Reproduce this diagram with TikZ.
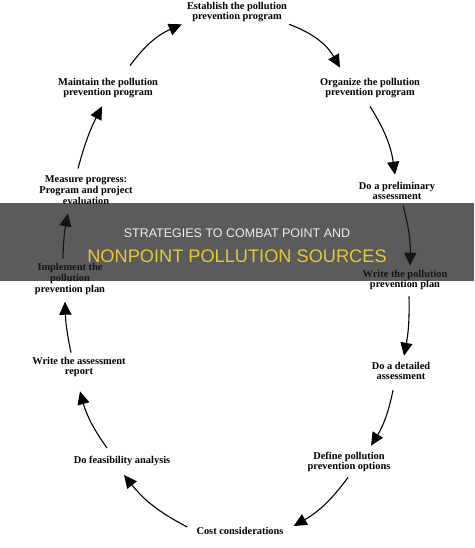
\documentclass[tikz,border=0pt]{standalone}
\usepackage{fontspec}
\setmainfont{Liberation Serif}
\newfontfamily\bannerfont{Liberation Sans}
\usetikzlibrary{arrows.meta,positioning}
\usepackage{xcolor}
\definecolor{band_gray}{RGB}{28,28,28}
\definecolor{band_white}{RGB}{236,236,236}
\definecolor{band_yellow}{RGB}{232,200,48}
\tikzset{
  stepnode/.style = {align=center, inner sep=2pt, font=\fontsize{10.4}{10.8}\selectfont\bfseries},
  flow/.style     = {black, line width=1.1pt, -{Triangle[length=13pt,width=12pt]}},
  bandtop/.style  = {font=\bannerfont\fontsize{12.5}{14}\selectfont, text=band_white},
  bandbot/.style  = {font=\bannerfont\fontsize{18.2}{20}\selectfont, text=band_yellow}
}

\begin{document}
\begin{tikzpicture}[x=1pt, y=-1pt]
    \useasboundingbox (0,0) rectangle (474,548);

    % ----- Steps of the cycle -----
    \node[stepnode] (est)  at (237,12)  {Establish the pollution\\prevention program};
    \node[stepnode] (org)  at (370,88)  {Organize the pollution\\prevention program};
    \node[stepnode] (pre)  at (397,191) {Do a preliminary\\assessment};
    \node[stepnode] (wpl)  at (405,280) {Write the pollution\\prevention plan};
    \node[stepnode] (det)  at (401,371) {Do a detailed\\assessment};
    \node[stepnode] (def)  at (349,462) {Define pollution\\prevention options};
    \node[stepnode] (cost) at (240,531) {Cost considerations};
    \node[stepnode] (fea)  at (122,461) {Do feasibility analysis};
    \node[stepnode] (rep)  at (79,367)  {Write the assessment\\report};
    \node[stepnode] (imp)  at (70,279)  {Implement the\\pollution\\prevention plan};
    \node[stepnode] (mea)  at (86,190)  {Measure progress:\\Program and project\\evaluation};
    \node[stepnode] (mai)  at (108,88)  {Maintain the pollution\\prevention program};

    % ----- Arrows (clockwise) -----
    \draw[flow] (est.south east) to[bend left=20] ([xshift=-30pt,yshift=8pt]org.north);
    \draw[flow] ([yshift=-6pt]org.south) to[bend left=12] ([xshift=-2pt,yshift=5pt]pre.north);
    \draw[flow] ([xshift=6pt,yshift=-3pt]pre.south) to[bend left=8] ([xshift=5pt,yshift=2pt]wpl.north);
    \draw[flow] ([xshift=4pt,yshift=-4pt]wpl.south) to[bend left=6] ([xshift=3pt,yshift=4pt]det.north);
    \draw[flow] ([xshift=-8pt,yshift=-8pt]det.south) to[bend left=10] ([xshift=22pt,yshift=4pt]def.north);
    \draw[flow] ([xshift=-1pt,yshift=-3pt]def.south) to[bend left=12] ([xshift=8pt,yshift=5pt]cost.east);
    \draw[flow] ([xshift=-7pt,yshift=4pt]cost.west) to[bend left=12] ([xshift=2pt,yshift=-7pt]fea.south);
    \draw[flow] ([xshift=-15pt,yshift=6pt]fea.north) to[bend left=10] ([xshift=1pt,yshift=-12pt]rep.south);
    \draw[flow] ([xshift=-8pt,yshift=2pt]rep.north) to[bend left=5] ([xshift=-5pt,yshift=-5pt]imp.south);
    \draw[flow] ([xshift=-7pt,yshift=3pt]imp.north) to[bend left=5] ([xshift=-18pt,yshift=-7pt]mea.south);
    \draw[flow] ([xshift=-8pt,yshift=5pt]mea.north) to[bend left=6] ([xshift=-6pt,yshift=-6pt]mai.south);
    \draw[flow] ([xshift=22pt,yshift=10pt]mai.north) to[bend left=15] ([xshift=-3pt]est.south west);

    % ----- Title band -----
    \fill[band_gray, opacity=0.72] (0,203) rectangle (474,281);
    \node[bandtop] (title1) at (237,233) {STRATEGIES TO COMBAT POINT AND};
    \node[bandbot] (title2) at (237,256) {NONPOINT POLLUTION SOURCES};
\end{tikzpicture}
\end{document}
